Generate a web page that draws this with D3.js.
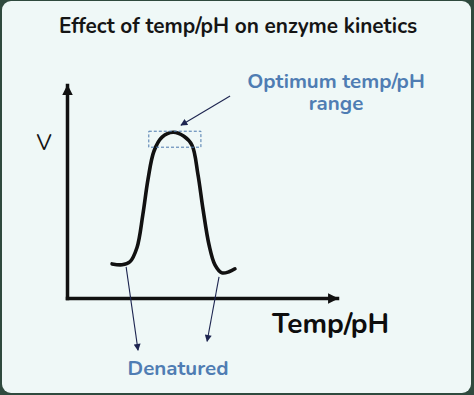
<!DOCTYPE html>
<html>
<head>
<meta charset="utf-8">
<script src="https://cdn.jsdelivr.net/npm/d3@7"></script>
<style>
  html, body { margin: 0; padding: 0; background: #2f4a3e; }
  #chart { width: 474px; height: 395px; }
  text { font-family: "Nunito", "Open Sans", sans-serif; }
</style>
</head>
<body>
<div id="chart"></div>
<script>
// curve points (x = temp/pH, y = velocity, both 0..100)
var curveX = [16.7, 20.4, 23.3, 25.9, 28.1, 30.0, 32.2, 35.2, 39.3, 43.3, 46.3, 48.5, 50.4, 52.6, 54.8, 57.4, 60.0, 62.2];
var curveY = [16.0, 15.6, 17.0, 23.6, 39.2, 55.7, 68.9, 75.5, 77.8, 75.9, 71.7, 58.0, 41.5, 25.0, 15.6, 11.8, 12.3, 13.7];

// optimum range box (x from..to, y from..to)
var optimumX = [30.3, 49.6];
var optimumY = [70.8, 78.3];

// annotation arrows: [x1, y1, x2, y2] in data units
var denaturedArrows = [[21.9, 14.6, 26.3, -24.5], [56.3, 9.9, 51.9, -20.3]];
var optimumArrow = [[60.4, 94.8, 42.2, 81.1]];

var titleText = 'Effect of temp/pH on enzyme kinetics';
var xLabel = 'Temp/pH';
var yLabel = 'V';
var optimumLabel = ['Optimum temp/pH', 'range'];
var denaturedLabel = 'Denatured';

var W = 474, H = 395;
var margin = { top: 85, right: 137, bottom: 97, left: 67 };

var svg = d3.select('#chart')
  .append('svg')
  .attr('width', W)
  .attr('height', H);

// card background
svg.append('rect')
  .attr('x', 2).attr('y', 1)
  .attr('width', W - 5).attr('height', H - 3)
  .attr('rx', 9)
  .attr('fill', '#eff8f7');

var x = d3.scaleLinear().domain([0, 100]).range([margin.left, W - margin.right]);
var y = d3.scaleLinear().domain([0, 100]).range([H - margin.bottom, margin.top]);

var defs = svg.append('defs');
defs.append('marker')
  .attr('id', 'bigArrow')
  .attr('viewBox', '0 0 10 10')
  .attr('refX', 9).attr('refY', 5)
  .attr('markerWidth', 3).attr('markerHeight', 3)
  .attr('markerUnits', 'strokeWidth')
  .attr('orient', 'auto')
  .append('path').attr('d', 'M0,0L10,5L0,10Z').attr('fill', '#111');
defs.append('marker')
  .attr('id', 'thinArrow')
  .attr('viewBox', '0 0 10 10')
  .attr('refX', 9).attr('refY', 5)
  .attr('markerWidth', 8).attr('markerHeight', 7)
  .attr('markerUnits', 'userSpaceOnUse')
  .attr('orient', 'auto')
  .append('path').attr('d', 'M0,0L10,5L0,10Z').attr('fill', '#1d2550');

// axes, no ticks
var xAxis = svg.append('g')
  .attr('transform', 'translate(0,' + y(0) + ')')
  .call(d3.axisBottom(x).ticks(0).tickSizeOuter(0));
var yAxis = svg.append('g')
  .attr('transform', 'translate(' + x(0) + ',0)')
  .call(d3.axisLeft(y).ticks(0).tickSizeOuter(0));

[xAxis, yAxis].forEach(function (g) {
  g.select('.domain')
    .attr('stroke', '#111')
    .attr('stroke-width', 3.5)
    .attr('stroke-linecap', 'square')
    .attr('marker-end', 'url(#bigArrow)');
});

var pts = curveX.map(function (d, i) { return [d, curveY[i]]; });
var line = d3.line()
  .x(function (d) { return x(d[0]); })
  .y(function (d) { return y(d[1]); })
  .curve(d3.curveCatmullRom.alpha(0.5));

svg.append('path')
  .datum(pts)
  .attr('d', line)
  .attr('fill', 'none')
  .attr('stroke', '#111')
  .attr('stroke-width', 3.6)
  .attr('stroke-linecap', 'round');

// optimum dashed box
svg.append('rect')
  .attr('x', x(optimumX[0]))
  .attr('y', y(optimumY[1]))
  .attr('width', x(optimumX[1]) - x(optimumX[0]))
  .attr('height', y(optimumY[0]) - y(optimumY[1]))
  .attr('fill', 'none')
  .attr('stroke', '#4a78ad')
  .attr('stroke-width', 1)
  .attr('stroke-dasharray', '3,2');

svg.selectAll('.note-arrow')
  .data(denaturedArrows.concat(optimumArrow))
  .enter().append('line')
  .attr('class', 'note-arrow')
  .attr('x1', function (d) { return x(d[0]); })
  .attr('y1', function (d) { return y(d[1]); })
  .attr('x2', function (d) { return x(d[2]); })
  .attr('y2', function (d) { return y(d[3]); })
  .attr('stroke', '#1d2550')
  .attr('stroke-width', 1.1)
  .attr('marker-end', 'url(#thinArrow)');

// texts
svg.append('text')
  .attr('x', 238).attr('y', 33)
  .attr('text-anchor', 'middle')
  .attr('font-size', 20.8)
  .attr('font-weight', 700)
  .attr('fill', '#151515')
  .text(titleText);

svg.append('text')
  .attr('x', 44).attr('y', 150)
  .attr('text-anchor', 'middle')
  .attr('font-size', 22)
  .attr('fill', '#151515')
  .text(yLabel);

svg.append('text')
  .attr('x', 272).attr('y', 333)
  .attr('font-size', 28)
  .attr('font-weight', 700)
  .attr('fill', '#0d0d0d')
  .text(xLabel);

// two-line label as one text with tspans
svg.append('text')
  .attr('class', 'opt-label')
  .attr('y', 88)
  .attr('text-anchor', 'middle')
  .attr('font-size', 20.5)
  .attr('font-weight', 700)
  .attr('fill', '#4f7db3')
  .selectAll('tspan')
  .data(optimumLabel)
  .enter().append('tspan')
  .attr('x', 336)
  .attr('dy', function (d, i) { return i === 0 ? 0 : 22; })
  .text(function (d) { return d; });

svg.append('text')
  .attr('x', 178).attr('y', 375)
  .attr('text-anchor', 'middle')
  .attr('font-size', 20.5)
  .attr('font-weight', 700)
  .attr('fill', '#4f7db3')
  .text(denaturedLabel);
</script>
</body>
</html>
